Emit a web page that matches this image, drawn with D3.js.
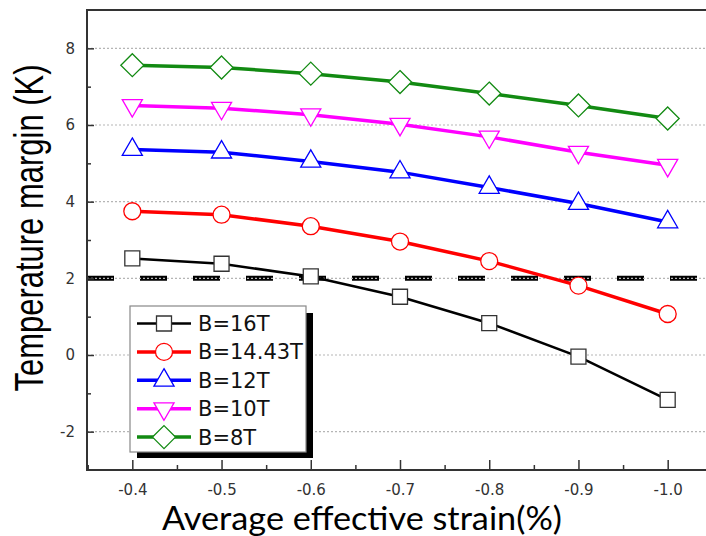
<!DOCTYPE html>
<html>
<head>
<meta charset="utf-8">
<script src="https://cdn.jsdelivr.net/npm/d3@7"></script>
<style>
  body { margin: 0; background: #fff; }
  svg { display: block; }
</style>
</head>
<body>
<div id="chart"></div>
<script>
// data
const strain = [-0.4, -0.5, -0.6, -0.7, -0.8, -0.9, -1.0];
const b16 = [2.52, 2.38, 2.05, 1.52, 0.83, -0.04, -1.17];
const b1443 = [3.75, 3.66, 3.36, 2.96, 2.45, 1.81, 1.07];
const b12 = [5.36, 5.29, 5.05, 4.77, 4.37, 3.95, 3.47];
const b10 = [6.51, 6.44, 6.27, 6.02, 5.69, 5.29, 4.95];
const b8 = [7.56, 7.50, 7.34, 7.12, 6.82, 6.51, 6.17];
const seriesNames = ["B=16T", "B=14.43T", "B=12T", "B=10T", "B=8T"];
const xTicks = [-0.4, -0.5, -0.6, -0.7, -0.8, -0.9, -1.0];
const yTicks = [-2, 0, 2, 4, 6, 8];
const limitLine = 2;

const series = [
  {name: seriesNames[0], values: b16, color: "#000000", shape: "square", lw: 2.5},
  {name: seriesNames[1], values: b1443, color: "#ff0000", shape: "circle", lw: 3.5},
  {name: seriesNames[2], values: b12, color: "#0000ff", shape: "up", lw: 3.5},
  {name: seriesNames[3], values: b10, color: "#ff00ff", shape: "down", lw: 3.5},
  {name: seriesNames[4], values: b8, color: "#128a12", shape: "diamond", lw: 3.5}
];

const W = 706, H = 536;
const plotLeft = 87, plotTop = 10, plotBottom = 470;

const svg = d3.select("#chart").append("svg")
  .attr("width", W).attr("height", H);

const x = d3.scaleLinear().domain([-0.35, -1.05]).range([87.7, 712.3]);
const y = d3.scaleLinear().domain([-3, 9]).range([plotBottom, plotTop]);

// plain hyphen instead of the unicode minus d3 uses
const fmtX = d => d3.format(".1f")(d).replace("\u2212", "-");
const fmtY = d => d3.format("d")(d).replace("\u2212", "-");

// marker shapes, drawn around (0,0)
function markerPath(shape) {
  if (shape === "square") return d3.symbol(d3.symbolSquare, 225)();
  if (shape === "circle") return d3.symbol(d3.symbolCircle, 227)();
  if (shape === "up") return d3.symbol(d3.symbolTriangle, 175)();
  if (shape === "down") return d3.symbol(d3.symbolTriangle, 175)();
  const p = d3.path(), r = 11.5;
  p.moveTo(0, -r); p.lineTo(r, 0); p.lineTo(0, r); p.lineTo(-r, 0); p.closePath();
  return p.toString();
}
function markerTransform(shape, px, py) {
  return `translate(${px},${py})` + (shape === "down" ? " rotate(180)" : "");
}

// limit dashed line at 2 K
svg.append("line")
  .attr("x1", plotLeft).attr("x2", W)
  .attr("y1", y(limitLine)).attr("y2", y(limitLine))
  .attr("stroke", "#000").attr("stroke-width", 5)
  .attr("stroke-dasharray", "27,26");

// horizontal dotted grid
svg.append("g").selectAll("line")
  .data(yTicks)
  .join("line")
    .attr("x1", plotLeft).attr("x2", W)
    .attr("y1", d => y(d)).attr("y2", d => y(d))
    .attr("stroke", "#b5b5b5").attr("stroke-width", 1.2)
    .attr("stroke-dasharray", "2,2");

// frame
svg.append("rect")
  .attr("x", plotLeft).attr("y", plotTop)
  .attr("width", 712.3 - plotLeft + 2).attr("height", plotBottom - plotTop)
  .attr("fill", "none").attr("stroke", "#333").attr("stroke-width", 2);

// x axis
const xMinor = d3.range(-0.35, -1.06, -0.1);
svg.append("g")
  .attr("transform", `translate(0,${plotBottom})`)
  .call(d3.axisBottom(x).tickValues(xMinor).tickSize(-5).tickFormat(""))
  .call(g => g.select(".domain").remove())
  .call(g => g.selectAll("line").attr("stroke", "#333").attr("stroke-width", 1.5));
svg.append("g")
  .attr("transform", `translate(0,${plotBottom})`)
  .call(d3.axisBottom(x).tickValues(xTicks).tickSize(-10).tickPadding(14)
    .tickFormat(fmtX))
  .call(g => g.select(".domain").remove())
  .call(g => g.selectAll("line").attr("stroke", "#333").attr("stroke-width", 1.5))
  .call(g => g.selectAll("text")
    .attr("font-family", "DejaVu Sans").attr("font-size", 15)
    .attr("fill", "#333"));

// y axis
const yMinor = [-1, 1, 3, 5, 7];
svg.append("g")
  .attr("transform", `translate(${plotLeft},0)`)
  .call(d3.axisLeft(y).tickValues(yMinor).tickSize(-4).tickFormat(""))
  .call(g => g.select(".domain").remove())
  .call(g => g.selectAll("line").attr("stroke", "#333").attr("stroke-width", 1.5));
svg.append("g")
  .attr("transform", `translate(${plotLeft},0)`)
  .call(d3.axisLeft(y).tickValues(yTicks).tickSize(-7).tickPadding(12)
    .tickFormat(fmtY))
  .call(g => g.select(".domain").remove())
  .call(g => g.selectAll("line").attr("stroke", "#333").attr("stroke-width", 1.5))
  .call(g => g.selectAll("text")
    .attr("font-family", "DejaVu Sans").attr("font-size", 15)
    .attr("fill", "#333"));

// series lines and markers
const line = d3.line().x((d, i) => x(strain[i])).y(d => y(d));
series.forEach(s => {
  svg.append("path")
    .attr("d", line(s.values))
    .attr("fill", "none").attr("stroke", s.color).attr("stroke-width", s.lw);
  svg.append("g").selectAll("path")
    .data(s.values)
    .join("path")
      .attr("d", markerPath(s.shape))
      .attr("transform", (d, i) => markerTransform(s.shape, x(strain[i]), y(d)))
      .attr("fill", "#fff")
      .attr("stroke", s.shape === "square" ? "#333" : s.color)
      .attr("stroke-width", 1.3);
});

// legend
const lg = svg.append("g");
lg.append("rect").attr("x", 137).attr("y", 313).attr("width", 176).attr("height", 145)
  .attr("fill", "#000");
lg.append("rect").attr("x", 130).attr("y", 306).attr("width", 176).attr("height", 146)
  .attr("fill", "#fff").attr("stroke", "#888").attr("stroke-width", 1.2);
const rows = lg.selectAll("g.row")
  .data(series)
  .join("g")
    .attr("class", "row")
    .attr("transform", (d, i) => `translate(0,${323.5 + i * 28.4})`);
rows.append("line")
  .attr("x1", 137).attr("x2", 191)
  .attr("stroke", d => d.color).attr("stroke-width", d => d.lw);
rows.append("path")
  .attr("d", d => markerPath(d.shape))
  .attr("transform", d => markerTransform(d.shape, 164, 0))
  .attr("fill", "#fff")
  .attr("stroke", d => d.shape === "square" ? "#333" : d.color)
  .attr("stroke-width", 1.3);
rows.append("text")
  .attr("x", 198).attr("y", 0).attr("dy", "0.36em")
  .attr("font-family", "DejaVu Sans").attr("font-size", 21)
  .attr("fill", "#111")
  .text(d => d.name);

// axis titles
svg.append("text")
  .attr("transform", `translate(43,${228}) scale(1.3,1) rotate(-90)`)
  .attr("text-anchor", "middle")
  .attr("font-family", "Liberation Sans").attr("font-size", 31)
  .attr("fill", "#000")
  .text("Temperature margin (K)");

svg.append("text")
  .attr("x", 162).attr("y", 530)
  .attr("textLength", 400).attr("lengthAdjust", "spacingAndGlyphs")
  .attr("font-family", "Lato").attr("font-size", 32)
  .attr("fill", "#000")
  .text("Average effective strain(%)");
</script>
</body>
</html>
